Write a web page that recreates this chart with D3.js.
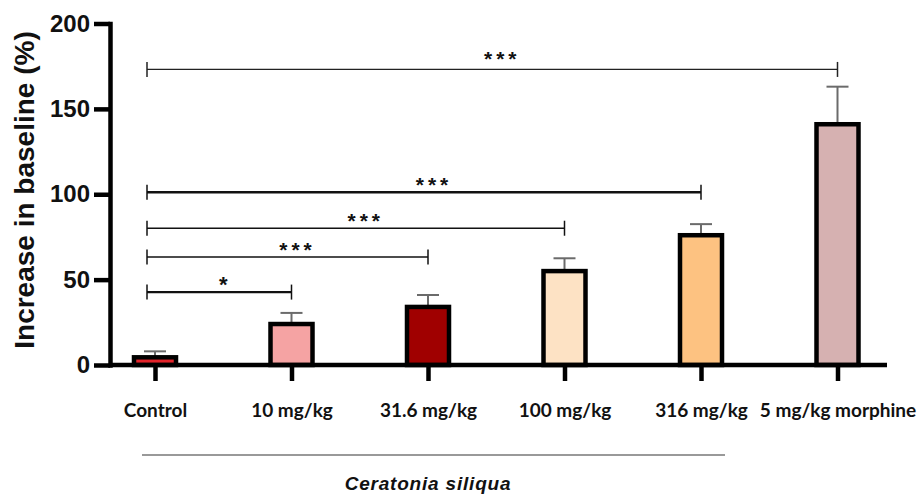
<!DOCTYPE html>
<html>
<head>
<meta charset="utf-8">
<script src="https://cdn.jsdelivr.net/npm/d3@7/dist/d3.min.js"></script>
<style>
  html, body { margin: 0; padding: 0; background: #fff; }
  svg { display: block; }
</style>
</head>
<body>
<svg id="chart" width="921" height="494"></svg>
<script>
// ---- data ----
const categories = ["Control", "10 mg/kg", "31.6 mg/kg", "100 mg/kg", "316 mg/kg", "5 mg/kg morphine"];
const means = [4.5, 24, 34, 55, 76, 141];
const sems = [3.5, 6.5, 7, 7.5, 6.5, 22];
const fills = ["#e3242b", "#f5a3a3", "#a00000", "#fde2c4", "#fdc281", "#d6b1b1"];
const yTicks = [0, 50, 100, 150, 200];
const yTitle = "Increase in baseline (%)";
const groupLabel = "Ceratonia siliqua";
const brackets = [
  { from: "Control", to: "10 mg/kg", level: 42.7, label: "*" },
  { from: "Control", to: "31.6 mg/kg", level: 63.2, label: "***" },
  { from: "Control", to: "100 mg/kg", level: 80.1, label: "***" },
  { from: "Control", to: "316 mg/kg", level: 101.2, label: "***" },
  { from: "Control", to: "5 mg/kg morphine", level: 173.1, label: "***" }
];
const bracketWidths = [2.4, 1.5, 1.5, 2.4, 1.3];

// ---- layout ----
const svg = d3.select("#chart");
const axisX = 110, baseY = 365, topY = 23.5, xEnd = 887;
const y = d3.scaleLinear().domain([0, 200]).range([baseY, topY]);
const x = d3.scalePoint().domain(categories).range([155, 837.5]);
const barW = 42;

// brackets
const bg = svg.append("g");
brackets.forEach((b, i) => {
  const x1 = x(b.from) - 8, x2 = x(b.to), yy = y(b.level);
  const g = bg.append("g").attr("stroke", i === 4 ? "#222" : "#111").attr("stroke-width", bracketWidths[i]).attr("fill", "none");
  g.append("line").attr("x1", x1).attr("x2", x2).attr("y1", yy).attr("y2", yy);
  g.append("line").attr("x1", x1).attr("x2", x1).attr("y1", yy - 7.5).attr("y2", yy + 7.5).attr("stroke-width", 1.5);
  g.append("line").attr("x1", x2).attr("x2", x2).attr("y1", yy - 7.5).attr("y2", yy + 7.5).attr("stroke-width", 1.5);
  const single = b.label.length === 1;
  bg.append("text")
    .attr("x", (x1 + x2) / 2 + (single ? 4 : 10))
    .attr("y", yy - (i === 4 ? 3 : 0.5))
    .attr("text-anchor", "middle")
    .attr("font-family", "Liberation Sans, Arial, sans-serif")
    .attr("font-weight", "bold")
    .attr("font-size", single ? 22 : 21)
    .attr("letter-spacing", single ? 0 : 4)
    .attr("fill", "#111")
    .text(b.label);
});

// error bars
const eg = svg.append("g").attr("stroke", "#6b6b6b").attr("stroke-width", 2);
categories.forEach((c, i) => {
  const cx = x(c);
  eg.append("line").attr("x1", cx).attr("x2", cx).attr("y1", y(means[i])).attr("y2", y(means[i] + sems[i]));
  eg.append("line").attr("x1", cx - 11).attr("x2", cx + 11).attr("y1", y(means[i] + sems[i])).attr("y2", y(means[i] + sems[i]));
});

// bars
svg.append("g").selectAll("rect").data(categories).join("rect")
  .attr("x", d => x(d) - barW / 2)
  .attr("width", barW)
  .attr("y", (d, i) => y(means[i]))
  .attr("height", (d, i) => y(0) - y(means[i]))
  .attr("fill", (d, i) => fills[i])
  .attr("stroke", "#000")
  .attr("stroke-width", 4.5);

// x axis
svg.append("line").attr("x1", axisX).attr("x2", xEnd).attr("y1", baseY).attr("y2", baseY)
  .attr("stroke", "#000").attr("stroke-width", 4.5);
const xAxis = svg.append("g").attr("transform", `translate(0,${baseY})`)
  .call(d3.axisBottom(x).tickSize(16).tickSizeOuter(0).tickPadding(23));
xAxis.select(".domain").remove();
xAxis.selectAll(".tick line").attr("stroke", "#000").attr("stroke-width", 4.5);
xAxis.selectAll(".tick text")
  .attr("font-family", "Lato, 'Open Sans', sans-serif")
  .attr("font-weight", "bold")
  .attr("font-size", 19)
  .attr("fill", "#111");

// y axis
const yAxis = svg.append("g").attr("transform", `translate(${axisX},0)`)
  .call(d3.axisLeft(y).tickValues(yTicks).tickSize(16).tickSizeOuter(0).tickPadding(4));
yAxis.select(".domain").attr("stroke", "#000").attr("stroke-width", 4.5).attr("stroke-linecap", "square");
yAxis.selectAll(".tick line").attr("stroke", "#000").attr("stroke-width", 4.5);
yAxis.selectAll(".tick text")
  .attr("font-family", "Liberation Sans, Arial, sans-serif")
  .attr("font-weight", "bold")
  .attr("font-size", 24)
  .attr("fill", "#111");

// y title
svg.append("text")
  .attr("transform", "translate(34,190) rotate(-90)")
  .attr("text-anchor", "middle")
  .attr("font-family", "Liberation Sans, Arial, sans-serif")
  .attr("font-weight", "bold")
  .attr("font-size", 28)
  .attr("fill", "#111")
  .text(yTitle);

// group line and label
svg.append("line").attr("x1", 142).attr("x2", 725).attr("y1", 455).attr("y2", 455)
  .attr("stroke", "#777").attr("stroke-width", 1.5);
svg.append("text")
  .attr("x", 428).attr("y", 490)
  .attr("text-anchor", "middle")
  .attr("font-family", "Liberation Sans, Arial, sans-serif")
  .attr("font-weight", "bold")
  .attr("font-style", "italic")
  .attr("font-size", 19)
  .attr("letter-spacing", 0.8)
  .attr("fill", "#111")
  .text(groupLabel);
</script>
</body>
</html>
